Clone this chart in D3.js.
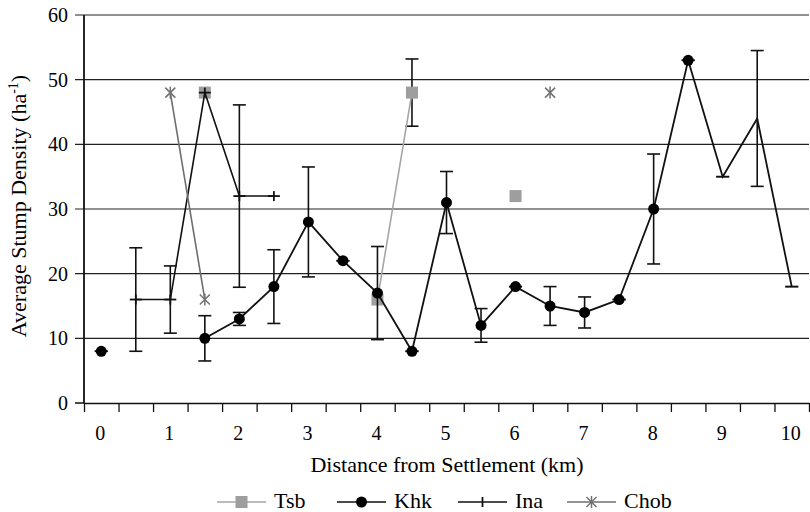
<!DOCTYPE html>
<html>
<head>
<meta charset="utf-8">
<script src="https://cdn.jsdelivr.net/npm/d3@7"></script>
<style>
  body { margin: 0; background: #fff; }
  svg text { font-family: 'Liberation Serif', serif; }
</style>
</head>
<body>
<svg id="chart" width="810" height="512"></svg>
<script>
// distance categories (km), labelled every other one
var distance = [0, 0.5, 1, 1.5, 2, 2.5, 3, 3.5, 4, 4.5, 5, 5.5, 6, 6.5, 7, 7.5, 8, 8.5, 9, 9.5, 10]

var tsb    = [null, null, null, 48, null, null, null, null, 16, 48, null, null, 32, null, null, null, null, null, null, null, null]
var tsbErr = [null, null, null, null, null, null, null, null, null, 5.2, null, null, null, null, null, null, null, null, null, null, null]

var khk    = [8, null, null, 10, 13, 18, 28, 22, 17, 8, 31, 12, 18, 15, 14, 16, 30, 53, 35, 44, 18]
var khkErr = [0, null, null, 3.5, 1, 5.7, 8.5, 0, 7.2, 0, 4.8, 2.6, 0, 3, 2.4, 0, 8.5, 0, 0, 10.5, 0]
// last three Khk points are drawn without a marker in the original
var khkNoMarker = [18, 19, 20]

var ina    = [null, 16, 16, 48, 32, 32, null, null, null, null, null, null, null, null, null, null, null, null, null, null, null]
var inaErr = [null, 8, 5.2, null, 14.1, null, null, null, null, null, null, null, null, null, null, null, null, null, null, null, null]

var chob   = [null, null, 48, 16, null, null, null, null, null, null, null, null, null, 48, null, null, null, null, null, null, null]

var yTicks = [0, 10, 20, 30, 40, 50, 60]

var FONT = 'Liberation Serif'
var svg = d3.select('#chart')
var plotLeft = 84, plotRight = 809, plotTop = 15, plotBottom = 403

var xi = d3.scaleLinear().domain([0, distance.length]).range([plotLeft, plotRight])
var y = d3.scaleLinear().domain([0, 60]).range([plotBottom, plotTop])
function cx(i) { return xi(i + 0.5) }

// gridlines + y ticks
svg.append('g')
    .selectAll('line')
    .data(yTicks.slice(1))
    .join('line')
    .attr('x1', plotLeft - 9).attr('x2', plotRight)
    .attr('y1', d => y(d)).attr('y2', d => y(d))
    .attr('stroke', '#222').attr('stroke-width', 1.2)

svg.append('line')
    .attr('x1', plotLeft - 9).attr('x2', plotLeft)
    .attr('y1', y(0)).attr('y2', y(0))
    .attr('stroke', '#111').attr('stroke-width', 1.5)

svg.append('g')
    .selectAll('text')
    .data(yTicks)
    .join('text')
    .attr('x', 68).attr('y', d => y(d) + 7)
    .attr('text-anchor', 'end')
    .attr('font-family', FONT).attr('font-size', 20)
    .text(d => d)

// x axis: ticks between categories
var xAxis = d3.axisBottom(xi)
    .tickValues(d3.range(distance.length + 1))
    .tickFormat('')
    .tickSize(9)
    .tickSizeOuter(0)
var gx = svg.append('g').attr('transform', 'translate(0,' + plotBottom + ')').call(xAxis)
gx.select('.domain').attr('stroke', '#111').attr('stroke-width', 1.5)
gx.selectAll('.tick line').attr('stroke', '#111').attr('stroke-width', 1.3)
gx.selectAll('.tick text').remove()

svg.append('g')
    .selectAll('text')
    .data(distance.filter((d, i) => i % 2 == 0))
    .join('text')
    .attr('x', (d, i) => cx(i * 2) - 1)
    .attr('y', 440)
    .attr('text-anchor', 'middle')
    .attr('font-family', FONT).attr('font-size', 20)
    .text(d => d)

// y axis line
svg.append('line')
    .attr('x1', plotLeft).attr('x2', plotLeft)
    .attr('y1', plotTop).attr('y2', plotBottom)
    .attr('stroke', '#111').attr('stroke-width', 1.8)

// axis titles
svg.append('text')
    .attr('x', 447).attr('y', 472)
    .attr('text-anchor', 'middle')
    .attr('font-family', FONT).attr('font-size', 22)
    .text('Distance from Settlement (km)')

var yt = svg.append('text')
    .attr('transform', 'translate(26,206) rotate(-90)')
    .attr('text-anchor', 'middle')
    .attr('font-family', FONT).attr('font-size', 22)
yt.append('tspan').text('Average Stump Density (ha')
yt.append('tspan').attr('dy', -8).attr('font-size', 14).text('-1')
yt.append('tspan').attr('dy', 8).text(')')

// helpers
function drawLine(vals, color, width) {
    var line = d3.line()
        .defined(d => d != null)
        .x((d, i) => cx(i))
        .y(d => y(d))
    svg.append('path')
        .datum(vals)
        .attr('d', line)
        .attr('fill', 'none')
        .attr('stroke', color)
        .attr('stroke-width', width)
}

function drawErr(vals, errs, color) {
    var pts = vals.map((v, i) => ({ i: i, v: v, e: errs[i] })).filter(d => d.v != null && d.e != null)
    var g = svg.append('g').attr('stroke', color).attr('stroke-width', 1.6)
    g.selectAll('.bar').data(pts).join('line').attr('class', 'bar')
        .attr('x1', d => cx(d.i)).attr('x2', d => cx(d.i))
        .attr('y1', d => y(d.v + d.e)).attr('y2', d => y(d.v - d.e))
    g.selectAll('.top').data(pts).join('line').attr('class', 'top')
        .attr('x1', d => cx(d.i) - 6.5).attr('x2', d => cx(d.i) + 6.5)
        .attr('y1', d => y(d.v + d.e)).attr('y2', d => y(d.v + d.e))
    g.selectAll('.bot').data(pts).join('line').attr('class', 'bot')
        .attr('x1', d => cx(d.i) - 6.5).attr('x2', d => cx(d.i) + 6.5)
        .attr('y1', d => y(d.v - d.e)).attr('y2', d => y(d.v - d.e))
}

function present(vals) {
    return vals.map((v, i) => ({ i: i, v: v })).filter(d => d.v != null)
}

// Tsb
drawErr(tsb, tsbErr, '#111')
drawLine(tsb, '#a6a6a6', 1.6)
svg.append('g').selectAll('rect').data(present(tsb)).join('rect')
    .attr('x', d => cx(d.i) - 6).attr('y', d => y(d.v) - 6)
    .attr('width', 12).attr('height', 12)
    .attr('fill', '#9e9e9e')

// Khk
drawErr(khk, khkErr, '#111')
drawLine(khk, '#111', 1.8)
svg.append('g').selectAll('circle')
    .data(present(khk).filter(d => khkNoMarker.indexOf(d.i) < 0))
    .join('circle')
    .attr('cx', d => cx(d.i)).attr('cy', d => y(d.v))
    .attr('r', 5.5)
    .attr('fill', '#000')

// Ina
drawErr(ina, inaErr, '#111')
drawLine(ina, '#111', 1.6)
var ig = svg.append('g').attr('stroke', '#111').attr('stroke-width', 1.8)
ig.selectAll('.h').data(present(ina)).join('line').attr('class', 'h')
    .attr('x1', d => cx(d.i) - 6).attr('x2', d => cx(d.i) + 6)
    .attr('y1', d => y(d.v)).attr('y2', d => y(d.v))
ig.selectAll('.v').data(present(ina)).join('line').attr('class', 'v')
    .attr('x1', d => cx(d.i)).attr('x2', d => cx(d.i))
    .attr('y1', d => y(d.v) - 5).attr('y2', d => y(d.v) + 5)

// Chob
function star(g, x0, y0, color) {
    g.append('line').attr('x1', x0 - 5).attr('x2', x0 + 5).attr('y1', y0 - 5).attr('y2', y0 + 5)
    g.append('line').attr('x1', x0 - 5).attr('x2', x0 + 5).attr('y1', y0 + 5).attr('y2', y0 - 5)
    g.append('line').attr('x1', x0).attr('x2', x0).attr('y1', y0 - 6).attr('y2', y0 + 6)
    g.attr('stroke', color).attr('stroke-width', 1.5)
}
drawLine(chob, '#6e6e6e', 1.6)
present(chob).forEach(d => star(svg.append('g'), cx(d.i), y(d.v), '#707070'))

// legend
var legend = [
    { name: 'Tsb', x: 217, line: '#a6a6a6', mark: 'square' },
    { name: 'Khk', x: 337, line: '#111', mark: 'circle' },
    { name: 'Ina', x: 458, line: '#111', mark: 'plus' },
    { name: 'Chob', x: 567, line: '#6e6e6e', mark: 'star' }
]
var ly = 502
legend.forEach(function(d) {
    var g = svg.append('g')
    g.append('line').attr('x1', d.x).attr('x2', d.x + 49).attr('y1', ly).attr('y2', ly)
        .attr('stroke', d.line).attr('stroke-width', 1.6)
    var mx = d.x + 24.5
    if (d.mark == 'square') {
        g.append('rect').attr('x', mx - 6).attr('y', ly - 6).attr('width', 12).attr('height', 12).attr('fill', '#9e9e9e')
    } else if (d.mark == 'circle') {
        g.append('circle').attr('cx', mx).attr('cy', ly).attr('r', 5.5).attr('fill', '#000')
    } else if (d.mark == 'plus') {
        g.append('line').attr('x1', mx).attr('x2', mx).attr('y1', ly - 5).attr('y2', ly + 5)
            .attr('stroke', '#111').attr('stroke-width', 1.8)
    } else {
        star(g.append('g'), mx, ly, '#707070')
    }
    g.append('text').attr('x', d.x + 57).attr('y', ly + 6)
        .attr('font-family', FONT).attr('font-size', 22)
        .text(d.name)
})
</script>
</body>
</html>
